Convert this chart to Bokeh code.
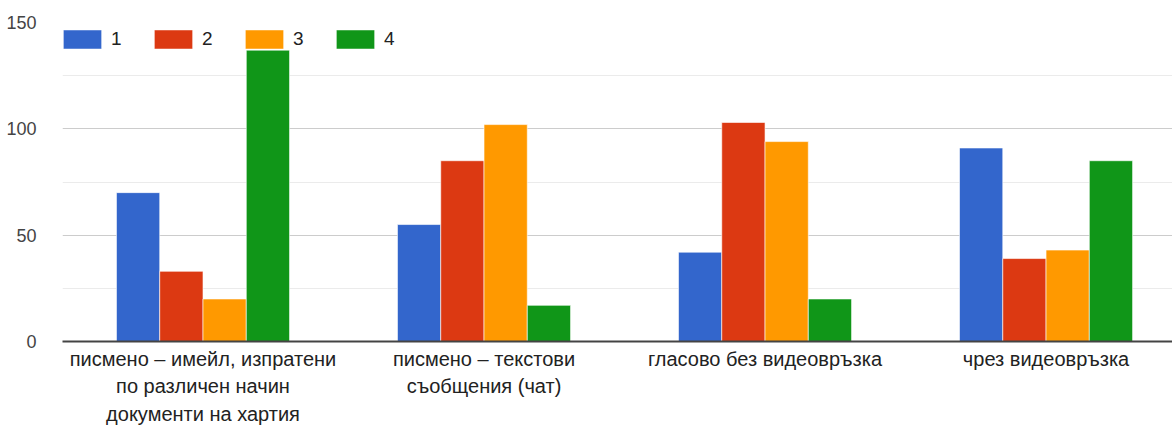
from bokeh.plotting import figure
from bokeh.models import ColumnDataSource, FixedTicker, Range1d, Legend, LegendItem
from bokeh.embed import file_html
from bokeh.resources import INLINE

categories = ["писмено – имейл, изпратени\nпо различен начин\nдокументи на хартия",
              "писмено – текстови\nсъобщения (чат)",
              "гласово без видеовръзка",
              "чрез видеовръзка"]
series_names = ["1", "2", "3", "4"]
s1 = [70, 55, 42, 91]
s2 = [33, 85, 103, 39]
s3 = [20, 102, 94, 43]
s4 = [137, 17, 20, 85]
colors = ["#3366cc", "#dc3912", "#ff9900", "#109618"]
y_ticks = [0, 50, 100, 150]

series = [s1, s2, s3, s4]
centers = [i + 0.5 for i in range(len(categories))]
bw = 0.154

p = figure(width=1172, height=427, output_backend="svg", toolbar_location=None,
           x_range=Range1d(0, 3.95), y_range=Range1d(0, 150),
           min_border_left=62, min_border_right=0, min_border_top=22, min_border_bottom=76)
p.outline_line_color = None

items = []
for k, (vals, col, name) in enumerate(zip(series, colors, series_names)):
    off = (k - 1.5) * bw
    src = ColumnDataSource(dict(x=[c + off for c in centers], top=vals))
    r = p.vbar(x="x", top="top", width=bw, bottom=0, source=src, fill_color=col,
               line_color="white", line_width=1, line_alpha=0.6)
    items.append(LegendItem(label=name, renderers=[r]))

legend = Legend(items=items, orientation="horizontal", location=(-4, 290),
                glyph_width=48, glyph_height=24, label_height=24, label_standoff=5, spacing=18,
                padding=0, margin=0, border_line_alpha=0, background_fill_alpha=0,
                label_text_font="Liberation Sans", label_text_font_size="19px",
                label_text_color="#222222")
p.add_layout(legend, "center")

p.xaxis.ticker = FixedTicker(ticks=centers)
p.xaxis.major_label_overrides = {c: lab for c, lab in zip(centers, categories)}
p.xaxis.major_tick_line_color = None
p.xaxis.minor_tick_line_color = None
p.xaxis.axis_line_color = "#444444"
p.xaxis.axis_line_width = 2
p.xaxis.major_label_text_font = "Liberation Sans"
p.xaxis.major_label_text_font_size = "20px"
p.xaxis.major_label_text_color = "#222222"
p.xaxis.major_label_text_line_height = 1.25
p.xaxis.major_label_standoff = 0

p.yaxis.ticker = FixedTicker(ticks=y_ticks, minor_ticks=[25, 75, 125])
p.yaxis.axis_line_color = None
p.yaxis.major_tick_line_color = None
p.yaxis.minor_tick_line_color = None
p.yaxis.major_label_text_font = "Liberation Sans"
p.yaxis.major_label_text_font_size = "18px"
p.yaxis.major_label_text_color = "#444444"
p.yaxis.major_label_standoff = 20

p.xgrid.grid_line_color = None
p.ygrid.grid_line_color = "#cccccc"
p.ygrid.minor_grid_line_color = "#ebebeb"

open("out.html", "w").write(file_html(p, INLINE))
